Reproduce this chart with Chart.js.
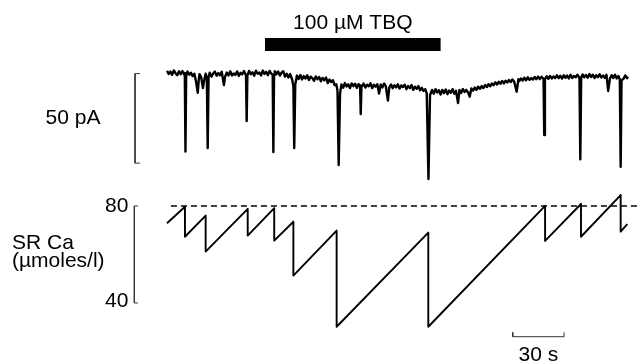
<!DOCTYPE html>
<html>
<head>
<meta charset="utf-8">
<script src="https://cdn.jsdelivr.net/npm/chart.js@4"></script>
<style>
  html, body { margin: 0; padding: 0; background: #fff; }
  #grafico { display: block; }
</style>
</head>
<body>
<canvas id="grafico" width="641" height="364"></canvas>
<script>
/* ============================================
   TBQ - membrane current and SR Ca
   Chart.js v4, one canvas, hidden axes
   ============================================ */

// Membrane current trace: time (s) and current (pA, 0 = start of baseline)
const currentTimes = [
  0, 1, 2, 3, 4, 5, 6, 7, 8, 9,
  10, 10.4, 10.8, 11.2, 12, 13, 14, 15, 16, 17,
  18, 18.6, 19, 20, 21, 21.8, 22.6, 23.3, 23.8, 24.3,
  25, 26, 27, 28, 29, 30, 31, 32, 33.3, 34,
  35, 36, 37, 38, 39, 40, 41, 42, 43, 44,
  45, 46.2, 46.6, 47, 48, 49, 50, 51, 52, 53,
  54, 55, 56, 57, 58, 59, 60, 61, 61.8, 62.2,
  62.6, 63, 64, 65, 66, 67, 68, 69, 70, 71,
  72, 73.2, 73.9, 74.4, 75, 76, 77, 78, 79, 80,
  81, 82, 83, 84, 85, 86, 87, 88, 89, 90,
  91, 92, 93, 94, 95, 96, 97, 98, 99, 99.7,
  100.4, 101.2, 102, 103, 104, 105, 106, 107, 108, 109,
  110, 111, 112, 112.9, 113.3, 113.7, 115, 116, 117, 118,
  119, 120, 121, 122, 123, 124, 125, 126, 127, 128,
  129.2, 130, 131, 132, 133, 134, 135, 136, 137, 138,
  139, 140, 141, 142, 143, 144, 145, 146, 147, 148,
  149, 150, 151, 151.9, 152.9, 153.8, 155, 156, 157, 158,
  159, 160, 161, 162, 163, 164, 165, 166, 167, 168,
  169, 170.2, 171, 172, 173, 174, 175, 176, 177, 178,
  179, 180, 181, 182, 183, 184, 185, 186, 187, 188,
  189, 190, 191, 192, 193, 194, 195, 196, 197, 198,
  199, 200, 201, 202, 203, 204.5, 205.5, 206, 207, 208,
  209, 210, 211, 212, 213, 214, 215, 216, 217, 218,
  219, 220.2, 220.6, 221, 222, 223, 224, 225, 226, 227,
  228, 229, 230, 231, 232, 233, 234, 235, 236, 237,
  238, 239, 240, 241.2, 241.7, 242.2, 243, 244, 245, 246,
  247, 248, 249, 250, 251, 252, 253, 254, 255, 256,
  257, 258, 259, 260, 261, 262, 263, 264, 264.8, 265.3,
  265.8, 267, 268, 269, 269.6
];
const currentValues = [
  0.6, -1.1, 0.2, -1.6, 0.9, -0.7, -1.8, 0.4, -1.2, 0.5,
  -1.4, -0.6, -44.4, -2.2, 0.3, -1.5, -0.4, -2.3, -1.0, -5.5,
  -11.6, -4.0, -1.2, -3.0, -9.0, -4.4, -1.0, -3.2, -42.5, -2.8,
  -0.4, -2.6, -0.9, 0.2, -2.1, -0.6, -1.8, 0.1, -7.3, -2.5,
  -0.3, -1.9, 0.4, -2.0, -0.8, -1.7, 0.3, -2.2, -0.5, -1.4,
  0.5, -1.8, -27.4, -2.0, 0.6, -1.3, -0.2, -2.1, 0.7, -1.0,
  -0.3, -1.9, 0.8, -1.1, 0.1, -1.8, 0.6, -0.9, -1.5, -44.7,
  -1.7, 0.5, -1.2, 0.3, -2.0, -0.4, 0.4, -2.6, -1.0, -3.1,
  -1.2, -4.2, -8.0, -42.5, -7.0, -2.0, -3.9, -1.7, -4.2, -2.3,
  -3.6, -1.9, -4.5, -2.6, -3.4, -4.9, -2.5, -4.0, -2.8, -5.2,
  -3.3, -4.6, -3.1, -6.2, -4.2, -5.6, -4.6, -7.4, -6.8, -10.5,
  -52.0, -12.0, -7.0, -8.8, -6.2, -8.1, -6.9, -9.0, -6.4, -7.9,
  -6.6, -8.9, -6.8, -7.6, -23.5, -8.4, -6.5, -8.7, -7.1, -8.0,
  -6.3, -9.0, -7.2, -8.2, -6.8, -12.0, -7.0, -8.6, -6.5, -8.1,
  -16.0, -8.6, -7.0, -9.1, -7.4, -8.6, -6.9, -9.3, -7.5, -8.4,
  -7.1, -9.6, -7.8, -9.0, -7.3, -10.0, -8.2, -9.4, -7.9, -10.3,
  -8.8, -10.6, -9.6, -12.0, -59.8, -13.0, -10.0, -12.1, -9.6, -11.4,
  -10.2, -12.6, -10.0, -11.8, -9.8, -12.4, -10.4, -11.6, -9.6, -12.2,
  -10.5, -17.3, -10.1, -11.7, -9.5, -11.2, -10.0, -11.3, -13.8, -9.2,
  -10.4, -8.7, -10.0, -8.2, -9.4, -7.9, -9.0, -7.3, -8.4, -6.8,
  -8.0, -6.5, -7.4, -5.8, -7.0, -5.5, -6.6, -5.0, -6.4, -4.9,
  -5.9, -4.5, -5.6, -4.2, -5.3, -11.0, -4.0, -5.1, -3.6, -4.8,
  -3.2, -4.6, -3.0, -4.4, -3.4, -4.2, -2.8, -4.0, -2.6, -3.9,
  -2.7, -3.8, -35.2, -4.0, -2.4, -3.8, -2.2, -3.6, -2.5, -3.4,
  -1.9, -3.5, -2.1, -3.7, -1.8, -3.2, -2.0, -3.6, -1.6, -3.3,
  -2.2, -3.0, -1.5, -3.2, -48.8, -3.3, -1.4, -3.0, -1.7, -3.2,
  -1.2, -2.8, -1.5, -3.4, -1.8, -2.9, -1.3, -3.1, -2.0, -3.3,
  -1.6, -10.6, -3.8, -1.8, -3.4, -1.5, -3.6, -2.2, -4.2, -52.9,
  -4.6, -3.8, -1.9, -3.5, -2.6
];

// SR Ca (umol/l) sawtooth: time (s)
const caTimes = [0, 10.5, 10.5, 22.6, 22.6, 47.2, 47.2, 62.7, 62.7, 73.9, 73.9,
  99.2, 99.2, 152.8, 152.8, 221.1, 221.1, 242.1, 242.1, 265.3, 265.3, 269.2];
const caValues = [72.9, 79.7, 67.3, 76.0, 61.2, 78.8, 67.8, 79.1, 65.7, 73.5, 51.3,
  69.8, 30.2, 69.0, 30.2, 80.0, 65.6, 80.8, 67.3, 84.5, 69.4, 72.5];

// Release threshold (dashed) and its time span
const caThreshold = 80;
const thresholdTimes = [2.3, 277];

// TBQ application (s)
const tbqTimes = [57.3, 160];

// Ca axis ticks and scale bars
const caTicks = [40, 80];
const currentBar = 50;   // pA
const timeBar = 30;      // s

/* ---------- layout (not data) ---------- */
const LAYOUT = {
  xMin: -97.66, xMax: 277.19,
  iMin: -163.1, iMax: 40.2,
  caMin: 14.85, caMax: 164.9,
  tbqLevel: 15.4,          // pA units, height of the bar
  iBarTop: -0.9, iBarT: -18.7, iBarTick: -15.8,
  caAxisT: -19.1, caAxisTick: -17.0,
  tBarStart: 202.2, tBarLevel: 26.1, tBarTick: 27.9,
  font: "21px 'Liberation Sans', Arial, sans-serif",
};

const pts = (xs, ys) => xs.map((x, i) => ({ x, y: ys[i] }));

const Grafico = {

  datasets() {
    const base = { pointRadius: 0, tension: 0, borderColor: '#000', fill: false, borderJoinStyle: 'round' };
    return [
      { ...base, yAxisID: 'yI', borderWidth: 2.4, data: pts(currentTimes, currentValues) },
      { ...base, yAxisID: 'yI', borderWidth: 13, borderCapStyle: 'butt', borderJoinStyle: 'miter',
        data: tbqTimes.map(x => ({ x, y: LAYOUT.tbqLevel })) },
      { ...base, yAxisID: 'yI', borderWidth: 1, borderColor: '#333', borderJoinStyle: 'miter',
        data: [
          { x: LAYOUT.iBarTick, y: LAYOUT.iBarTop },
          { x: LAYOUT.iBarT, y: LAYOUT.iBarTop },
          { x: LAYOUT.iBarT, y: LAYOUT.iBarTop - currentBar },
          { x: LAYOUT.iBarTick, y: LAYOUT.iBarTop - currentBar },
        ] },
      { ...base, yAxisID: 'yCa', borderWidth: 1.9, data: pts(caTimes, caValues) },
      { ...base, yAxisID: 'yCa', borderWidth: 1.5, borderDash: [6, 4],
        data: thresholdTimes.map(x => ({ x, y: caThreshold })) },
      { ...base, yAxisID: 'yCa', borderWidth: 1, borderColor: '#333', borderJoinStyle: 'miter',
        data: [
          { x: LAYOUT.caAxisTick, y: caTicks[1] },
          { x: LAYOUT.caAxisT, y: caTicks[1] },
          { x: LAYOUT.caAxisT, y: caTicks[0] },
          { x: LAYOUT.caAxisTick, y: caTicks[0] },
        ] },
      { ...base, yAxisID: 'yCa', borderWidth: 1, borderColor: '#333', borderJoinStyle: 'miter',
        data: [
          { x: LAYOUT.tBarStart, y: LAYOUT.tBarTick },
          { x: LAYOUT.tBarStart, y: LAYOUT.tBarLevel },
          { x: LAYOUT.tBarStart + timeBar, y: LAYOUT.tBarLevel },
          { x: LAYOUT.tBarStart + timeBar, y: LAYOUT.tBarTick },
        ] },
    ];
  },

  // Text labels placed from the scales
  etiquetas: {
    id: 'etiquetas',
    afterDatasetsDraw(chart) {
      const { ctx, scales } = chart;
      const { x, yI, yCa } = scales;
      ctx.save();
      ctx.fillStyle = '#000';
      ctx.font = LAYOUT.font;

      ctx.textAlign = 'center';
      ctx.textBaseline = 'alphabetic';
      ctx.fillText('100 µM TBQ', x.getPixelForValue((tbqTimes[0] + tbqTimes[1]) / 2),
        yI.getPixelForValue(LAYOUT.tbqLevel) - 15);

      ctx.textBaseline = 'middle';
      ctx.fillText(currentBar + ' pA', x.getPixelForValue(LAYOUT.iBarT) - 62,
        yI.getPixelForValue(LAYOUT.iBarTop - currentBar / 2));
      ctx.fillText(timeBar + ' s', x.getPixelForValue(LAYOUT.tBarStart + timeBar / 2),
        yCa.getPixelForValue(LAYOUT.tBarLevel) + 18);

      ctx.textAlign = 'right';
      caTicks.forEach(v => {
        ctx.fillText(String(v), x.getPixelForValue(LAYOUT.caAxisT) - 6, yCa.getPixelForValue(v) - (v === 40 ? 2 : 0));
      });

      ctx.textAlign = 'left';
      ctx.fillText('SR Ca', 12, 243);
      ctx.fillText('(µmoles/l)', 12, 261);
      ctx.restore();
    },
  },

  render(canvasId) {
    const ctx = document.getElementById(canvasId).getContext('2d');
    return new Chart(ctx, {
      type: 'line',
      data: { datasets: this.datasets() },
      options: {
        responsive: false,
        animation: false,
        devicePixelRatio: 1,
        layout: { padding: 0 },
        plugins: { legend: { display: false }, tooltip: { enabled: false } },
        scales: {
          x: { type: 'linear', display: false, min: LAYOUT.xMin, max: LAYOUT.xMax },
          yI: { type: 'linear', display: false, min: LAYOUT.iMin, max: LAYOUT.iMax },
          yCa: { type: 'linear', display: false, min: LAYOUT.caMin, max: LAYOUT.caMax },
        },
      },
      plugins: [this.etiquetas],
    });
  },
};

Grafico.render('grafico');
</script>
</body>
</html>
